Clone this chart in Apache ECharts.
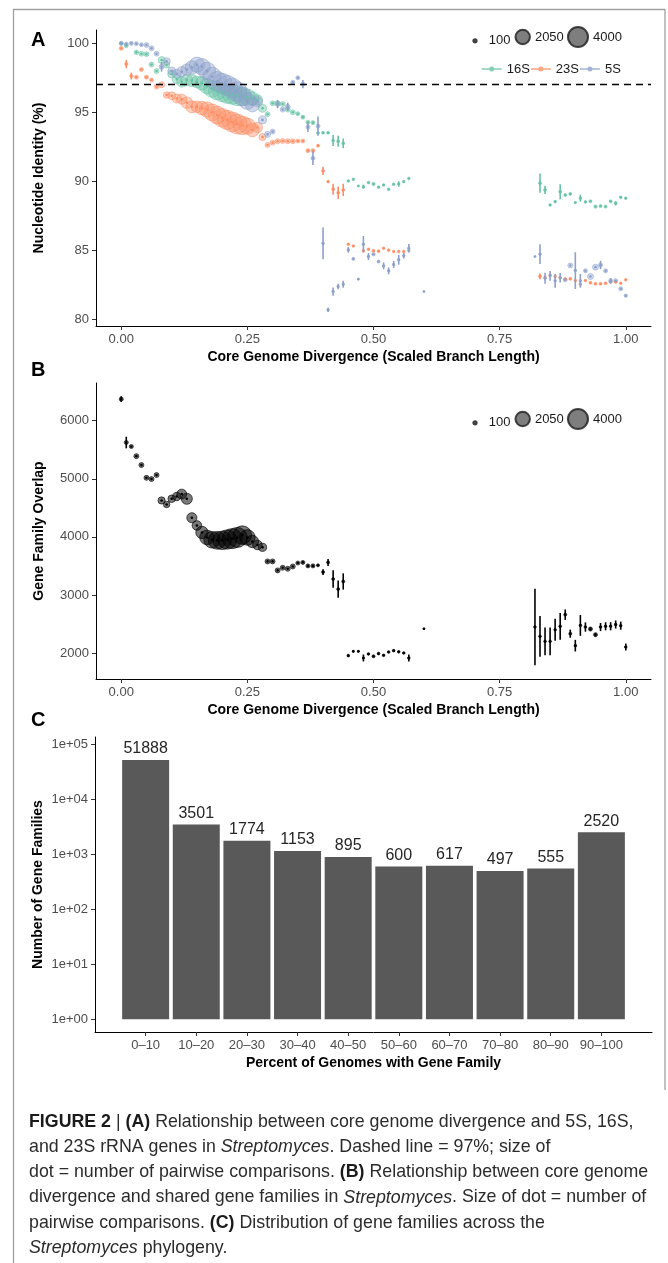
<!DOCTYPE html>
<html>
<head>
<meta charset="utf-8">
<script src="https://cdn.jsdelivr.net/npm/echarts@6/dist/echarts.min.js"></script>
<style>
  html, body { margin: 0; padding: 0; background: #fff; }
  #chart { width: 668px; height: 1263px; }
</style>
</head>
<body>
<div id="chart"></div>
<script>
// rows: [divergence, value, pairwise comparisons, half error]
const rrna16S = [
  [0.00,100.0,120,0],[0.01,99.83,150,0],[0.03,99.35,200,0],[0.04,99.25,230,0],[0.05,99.22,230,0],
  [0.06,98.46,230,0],[0.07,97.99,230,0],[0.08,98.79,470,0],[0.09,98.43,340,0],[0.10,97.78,600,0],
  [0.11,97.4,800,0],[0.12,97.2,1000,0],[0.13,97.35,1300,0],[0.14,97.3,1400,0],[0.15,97.2,1300,0],
  [0.16,97.1,1800,0],[0.17,96.9,2300,0],[0.18,96.7,2800,0],[0.19,96.55,3100,0],[0.20,96.45,3400,0],
  [0.21,96.35,3700,0],[0.22,96.3,3900,0],[0.23,96.2,3900,0],[0.24,96.15,3400,0],[0.25,96.1,2600,0],
  [0.26,96.0,1800,0],[0.27,95.9,1000,0],[0.28,95.3,620,0],[0.29,94.86,230,0],[0.30,95.65,230,0],
  [0.31,95.65,230,0],[0.32,95.6,230,0],[0.33,95.2,230,0],[0.34,95.0,230,0],[0.35,94.9,150,0],
  [0.36,94.65,150,0],[0.37,94.28,150,0],[0.38,94.25,150,0],[0.39,93.5,80,0],[0.40,93.52,80,0],
  [0.41,93.52,80,0],[0.42,92.95,80,0.4],[0.43,92.9,80,0.4],[0.44,92.75,80,0.35],
  [0.45,90.02,60,0],[0.46,90.14,60,0],[0.47,89.66,30,0],[0.48,89.6,60,0.15],[0.49,89.9,60,0],
  [0.50,89.8,100,0],[0.51,89.57,60,0],[0.52,89.73,60,0],[0.53,89.42,60,0],[0.54,89.78,60,0],
  [0.55,89.8,60,0.2],[0.56,89.97,60,0],[0.57,90.2,60,0],
  [0.83,89.86,80,0.7],[0.84,89.37,80,0.3],[0.85,88.28,60,0],[0.86,88.52,60,0],[0.87,89.24,80,0.55],
  [0.88,89.0,80,0],[0.89,89.08,80,0],[0.90,88.45,40,0],[0.91,88.77,60,0.25],[0.92,88.5,60,0],
  [0.93,88.55,80,0],[0.94,88.16,100,0],[0.95,88.2,80,0],[0.96,88.16,80,0],[0.97,88.55,80,0],
  [0.98,88.4,80,0.15],[0.99,88.84,60,0],[1.00,88.77,60,0]
];
const rrna23S = [
  [0.00,99.64,150,0],[0.01,98.5,100,0.3],[0.02,97.63,100,0.25],[0.03,97.55,150,0],[0.04,98.1,150,0],
  [0.05,97.55,150,0],[0.06,97.34,150,0],[0.07,96.86,230,0],[0.08,97.0,340,0],[0.09,96.25,400,0],
  [0.10,96.2,600,0],[0.11,96.0,800,0],[0.12,95.95,1000,0],[0.13,95.7,1300,0],[0.14,95.4,1400,0],
  [0.15,95.4,1300,0],[0.16,95.3,1800,0],[0.17,95.2,2300,0],[0.18,95.0,2800,0],[0.19,94.8,3100,0],
  [0.20,94.6,3400,0],[0.21,94.45,3700,0],[0.22,94.3,3900,0],[0.23,94.15,3900,0],[0.24,94.05,3400,0],
  [0.25,94.0,2600,0],[0.26,93.72,1800,0],[0.27,93.9,1000,0],[0.28,93.2,470,0],[0.29,92.63,230,0],
  [0.30,92.8,230,0],[0.31,92.9,230,0],[0.32,92.92,230,0],[0.33,92.9,230,0],[0.34,92.9,230,0],
  [0.35,92.92,150,0],[0.36,92.92,150,0],[0.37,92.22,150,0],[0.38,92.22,150,0],[0.39,92.58,80,0],
  [0.40,90.75,80,0.3],[0.41,89.97,60,0],[0.42,89.42,80,0.4],[0.43,89.17,80,0.45],[0.44,89.37,80,0.45],
  [0.45,85.43,60,0],[0.46,85.3,60,0],[0.48,84.95,60,0],[0.49,85.07,60,0],[0.50,84.95,80,0],
  [0.51,84.93,80,0],[0.52,85.14,60,0],[0.53,85.0,60,0],[0.54,84.9,60,0],[0.55,84.9,60,0],
  [0.56,84.9,60,0],[0.57,84.97,60,0],
  [0.83,83.1,80,0.2],[0.84,83.04,60,0],[0.85,83.2,60,0],[0.86,83.1,60,0],[0.87,83.0,60,0],
  [0.88,82.9,80,0],[0.89,82.92,80,0],[0.90,82.8,60,0],[0.91,82.53,60,0],[0.92,82.8,60,0],
  [0.93,82.64,80,0],[0.94,82.56,80,0],[0.95,82.56,80,0],[0.96,82.6,80,0],[0.97,82.7,80,0],
  [0.98,82.7,80,0],[0.99,82.6,60,0],[1.00,82.85,60,0]
];
const rrna5S = [
  [0.00,100.0,150,0],[0.01,99.95,150,0],[0.02,100.0,150,0],[0.03,99.98,150,0],[0.04,99.9,150,0],
  [0.05,99.88,230,0],[0.06,99.64,230,0],[0.07,99.25,230,0],[0.08,98.3,230,0.35],[0.09,98.7,500,0],
  [0.10,98.0,600,0],[0.11,97.8,800,0],[0.12,97.95,1000,0],[0.13,98.1,1300,0],[0.14,98.25,1800,0],
  [0.15,98.45,2300,0],[0.16,98.3,2700,0],[0.17,98.0,3000,0],[0.18,97.6,3400,0],[0.19,97.25,3900,0],
  [0.20,97.1,4000,0],[0.21,96.95,4000,0],[0.22,96.75,4000,0],[0.23,96.5,3900,0],[0.24,96.15,3400,0],
  [0.25,95.82,2800,0],[0.26,95.55,2000,0],[0.27,95.77,1000,0],[0.28,94.45,620,0],[0.29,93.4,340,0],
  [0.30,93.6,230,0],[0.31,95.6,230,0.3],[0.32,95.2,230,0],[0.33,95.4,230,0.3],[0.34,97.17,150,0],
  [0.35,97.5,150,0],[0.36,97.05,150,0.3],[0.37,93.93,150,0.35],[0.38,91.67,150,0.5],[0.39,94.0,150,0.7],
  [0.40,85.5,80,1.15],[0.41,80.67,60,0.15],[0.42,82.0,60,0.3],[0.43,82.36,60,0.2],[0.44,82.53,60,0.25],
  [0.45,85.02,60,0.2],[0.46,84.37,80,0],[0.47,82.9,30,0],[0.48,85.43,60,0.6],[0.49,84.54,60,0.25],
  [0.50,84.7,100,0],[0.51,84.17,80,0],[0.52,83.86,60,0.25],[0.53,83.5,60,0.25],[0.54,83.96,60,0.25],
  [0.55,84.3,60,0.35],[0.56,84.6,60,0.2],[0.57,85.14,60,0.3],[0.60,82.0,20,0],
  [0.82,84.54,20,0],[0.83,84.71,60,0.72],[0.84,82.97,60,0.4],[0.85,83.14,60,0.35],[0.86,82.78,60,0.5],
  [0.87,83.0,60,0.35],[0.88,82.85,150,0],[0.89,83.89,230,0],[0.90,83.52,60,1.33],[0.91,82.78,60,0.5],
  [0.92,83.5,150,0],[0.93,83.09,340,0],[0.94,83.77,340,0],[0.95,83.93,150,0.3],[0.96,83.5,150,0],
  [0.97,82.78,150,0.2],[0.98,82.78,150,0],[0.99,82.2,150,0],[1.00,81.7,100,0]
];
const geneOverlap = [
  [0.00,6372,150,50],[0.01,5625,150,100],[0.02,5556,150,0],[0.03,5390,230,0],[0.04,5236,230,0],
  [0.05,5017,230,0],[0.06,4995,230,0],[0.07,5064,230,0],[0.08,4627,500,0],[0.09,4558,400,0],
  [0.10,4656,550,0],[0.11,4695,700,0],[0.12,4737,950,0],[0.13,4656,1200,0],[0.14,4329,1000,0],
  [0.15,4196,900,0],[0.16,4076,1500,0],[0.17,3990,2100,0],[0.18,3950,2700,0],[0.19,3940,3100,0],
  [0.20,3940,3400,0],[0.21,3955,3700,0],[0.22,3970,4000,0],[0.23,3990,4000,0],[0.24,4030,3400,0],
  [0.25,3990,2400,0],[0.26,3920,1500,0],[0.27,3860,900,0],[0.28,3820,650,0],[0.29,3577,230,0],
  [0.30,3577,230,0],[0.31,3422,230,0],[0.32,3468,230,0],[0.33,3450,230,0],[0.34,3490,230,0],
  [0.35,3549,150,0],[0.36,3560,150,0],[0.37,3500,150,0],[0.38,3500,150,0],[0.39,3510,80,0],
  [0.40,3394,80,50],[0.41,3560,80,60],[0.42,3274,80,150],[0.43,3100,80,150],[0.44,3232,80,140],
  [0.45,1954,60,0],[0.46,2028,40,0],[0.47,2028,40,0],[0.48,1914,40,60],[0.49,1983,60,0],
  [0.50,1943,80,0],[0.51,1989,60,0],[0.52,1960,60,0],[0.53,2017,60,0],[0.54,2040,60,0],
  [0.55,2020,60,0],[0.56,2000,60,0],[0.57,1914,60,60],[0.60,2418,20,0],
  [0.82,2447,60,660],[0.83,2286,60,350],[0.84,2200,60,240],[0.85,2200,60,240],[0.86,2400,60,190],
  [0.87,2460,60,230],[0.88,2660,80,90],[0.89,2332,80,70],[0.90,2126,60,100],[0.91,2475,60,180],
  [0.92,2447,60,80],[0.93,2413,150,30],[0.94,2315,150,30],[0.95,2447,60,70],[0.96,2460,60,70],
  [0.97,2460,60,70],[0.98,2490,60,70],[0.99,2470,60,70],[1.00,2103,60,60]
];
const sizeBreaks = ['100', '2050', '4000'];
const percentBins = ['0–10', '10–20', '20–30', '30–40', '40–50', '50–60', '60–70', '70–80', '80–90', '90–100'];
const familyCounts = [51888, 3501, 1774, 1153, 895, 600, 617, 497, 555, 2520];
const divTicks = [0, 0.25, 0.5, 0.75, 1];
const identityTicks = [80, 85, 90, 95, 100];
const overlapTicks = [2000, 3000, 4000, 5000, 6000];
const logTicks = [0, 1, 2, 3, 4, 5];
const captionLines = [
  '{b|FIGURE 2} | {b|(A)} Relationship between core genome divergence and 5S, 16S,',
  'and 23S rRNA genes in {i|Streptomyces}. Dashed line = 97%; size of',
  'dot = number of pairwise comparisons. {b|(B)} Relationship between core genome',
  'divergence and shared gene families in {i|Streptomyces}. Size of dot = number of',
  'pairwise comparisons. {b|(C)} Distribution of gene families across the',
  '{i|Streptomyces} phylogeny.'
];

const FONT = "'Liberation Sans', Arial, sans-serif";
const COL16 = '#66c2a5', COL23 = '#fc8d62', COL5 = '#8da0cb';
const dotSize = n => 0.2 + 0.314 * Math.sqrt(n);

function fade(hex, a) {
  const v = parseInt(hex.slice(1), 16);
  return 'rgba(' + (v >> 16) + ',' + ((v >> 8) & 255) + ',' + (v & 255) + ',' + a + ')';
}

function axisBase(grid, min, max, ticks, fmt, name, gap) {
  return {
    type: 'value', gridIndex: grid, min: min, max: max,
    axisLine: { show: true, onZero: false, lineStyle: { color: '#000', width: 1 } },
    axisTick: { show: true, length: 4, customValues: ticks, lineStyle: { color: '#333', width: 1 } },
    axisLabel: { customValues: ticks, formatter: fmt, fontFamily: FONT, fontSize: 13, color: '#4d4d4d', margin: 7 },
    splitLine: { show: false },
    name: name, nameLocation: 'middle', nameGap: gap, nameMoveOverlap: false,
    nameTextStyle: { fontFamily: FONT, fontSize: 14, fontWeight: 'bold', color: '#000' }
  };
}

// point + range drawn on top of the sized circles
function rangeItem(color, width, r) {
  return function (params, api) {
    const x = api.value(0), y = api.value(1), e = api.value(3);
    const mid = api.coord([x, y]);
    const kids = [];
    if (e > 0) {
      const hi = api.coord([x, y + e]), lo = api.coord([x, y - e]);
      kids.push({ type: 'line', shape: { x1: hi[0], y1: hi[1], x2: lo[0], y2: lo[1] },
        style: { stroke: color, lineWidth: width } });
    }
    kids.push({ type: 'circle', shape: { cx: mid[0], cy: mid[1], r: r }, style: { fill: color } });
    return { type: 'group', children: kids };
  };
}

function sizedPoints(name, data, color, xi, yi, extra) {
  return Object.assign({
    name: name, type: 'scatter', xAxisIndex: xi, yAxisIndex: yi, data: data,
    symbolSize: v => dotSize(v[2]),
    itemStyle: { color: fade(color, 0.5), borderColor: fade(color, 0.85), borderWidth: 0.8 },
    z: 2
  }, extra || {});
}

function ranges(name, data, color, xi, yi, width, r) {
  return {
    name: name, type: 'custom', xAxisIndex: xi, yAxisIndex: yi, data: data,
    encode: { x: 0, y: 1 }, renderItem: rangeItem(color, width, r), z: 3
  };
}

const lineDot = 'path://M0,2.25H20V3.75H0Z M10,0.5A2.5,2.5 0 1,1 10,5.5A2.5,2.5 0 1,1 10,0.5Z';

// size key: circle centres and label starts
function sizeLegends(centerY) {
  const centres = [474, 521.7, 577];
  const textPad = [7, 0, 0];
  return sizeBreaks.map((b, i) => {
    const h = dotSize(+b);
    return {
      left: centres[i] - h / 2, top: centerY - h / 2, padding: 0, orient: 'horizontal',
      itemWidth: h, itemHeight: h, itemGap: 0, selectedMode: false,
      data: [{ name: b, icon: 'circle' }],
      textStyle: { fontFamily: FONT, fontSize: 13, color: '#1a1a1a', padding: [0, 0, 0, textPad[i]] }
    };
  });
}

const barData = familyCounts.map((c, i) => [i + 1, Math.log10(c)]);

const frame = { stroke: '#a0a0a0', lineWidth: 1.3 };
const graphics = [
  { type: 'line', shape: { x1: 13, y1: 9.5, x2: 665, y2: 9.5 }, style: frame },
  { type: 'line', shape: { x1: 13.5, y1: 9, x2: 13.5, y2: 1263 }, style: frame },
  { type: 'line', shape: { x1: 665, y1: 9, x2: 665, y2: 1090 }, style: frame }
];
[['A', 40.5], ['B', 370.5], ['C', 720]].forEach(p => {
  graphics.push({ type: 'text', x: 31, y: p[1], style: { text: p[0], fontFamily: FONT, fontSize: 20,
    fontWeight: 'bold', fill: '#000', verticalAlign: 'middle' } });
});
captionLines.forEach((t, i) => {
  graphics.push({ type: 'text', x: 29, y: 1122 + i * 25.2, style: {
    text: t, fontFamily: FONT, fontSize: 17.8, fill: '#2b2b2b', verticalAlign: 'middle',
    rich: {
      b: { fontFamily: FONT, fontSize: 17.8, fontWeight: 'bold', fill: '#1a1a1a' },
      i: { fontFamily: FONT, fontSize: 17.8, fontStyle: 'italic', fill: '#2b2b2b' }
    }
  } });
});

const option = {
  animation: false,
  backgroundColor: '#fff',
  grid: [
    { left: 96, top: 30, width: 555, height: 296 },
    { left: 96, top: 383, width: 555, height: 296 },
    { left: 95, top: 737, width: 557, height: 295 }
  ],
  xAxis: [
    axisBase(0, -0.05, 1.05, divTicks, v => v.toFixed(2), 'Core Genome Divergence (Scaled Branch Length)', 24),
    axisBase(1, -0.05, 1.05, divTicks, v => v.toFixed(2), 'Core Genome Divergence (Scaled Branch Length)', 24),
    axisBase(2, 0, 11, [1, 2, 3, 4, 5, 6, 7, 8, 9, 10], v => percentBins[v - 1], 'Percent of Genomes with Gene Family', 24)
  ],
  yAxis: [
    axisBase(0, 79.5, 100.97, identityTicks, v => String(v), 'Nucleotide Identity (%)', 49.5),
    axisBase(1, 1552, 6650, overlapTicks, v => String(v), 'Gene Family Overlap', 49.5),
    axisBase(2, -0.23, 5.133, logTicks, v => '1e+0' + v, 'Number of Gene Families', 49.5)
  ],
  legend: sizeLegends(36).concat(sizeLegends(418)).concat([{
    left: 481.7, top: 62.5, padding: 0, itemWidth: 20, itemHeight: 5, itemGap: 1, selectedMode: false,
    textStyle: { fontFamily: FONT, fontSize: 13, color: '#1a1a1a' },
    data: [
      { name: '16S', icon: lineDot, itemStyle: { color: COL16, borderWidth: 0 } },
      { name: '23S', icon: lineDot, itemStyle: { color: COL23, borderWidth: 0 } },
      { name: '5S', icon: lineDot, itemStyle: { color: COL5, borderWidth: 0 } }
    ]
  }]),
  graphic: graphics,
  series: [
    sizedPoints('16S', rrna16S, COL16, 0, 0, {
      markLine: {
        silent: true, symbol: 'none', label: { show: false },
        lineStyle: { color: '#000', width: 1.3, type: [7, 5] },
        data: [{ yAxis: 97 }]
      }
    }),
    sizedPoints('23S', rrna23S, COL23, 0, 0),
    sizedPoints('5S', rrna5S, COL5, 0, 0),
    ranges('16S', rrna16S, COL16, 0, 0, 1.6, 1.3),
    ranges('23S', rrna23S, COL23, 0, 0, 1.6, 1.3),
    ranges('5S', rrna5S, COL5, 0, 0, 1.6, 1.3),
    {
      name: 'overlap', type: 'scatter', xAxisIndex: 1, yAxisIndex: 1, data: geneOverlap,
      symbolSize: v => dotSize(v[2]),
      itemStyle: { color: 'rgba(0,0,0,0.65)', borderColor: '#000', borderWidth: 0.8 }, z: 2
    },
    ranges('overlap', geneOverlap, '#000', 1, 1, 1.6, 1.3),
    {
      name: 'families', type: 'bar', xAxisIndex: 2, yAxisIndex: 2, data: barData, barWidth: 47,
      itemStyle: { color: '#595959' },
      label: {
        show: true, position: 'top', distance: 3, fontFamily: FONT, fontSize: 16, color: '#262626',
        formatter: p => String(familyCounts[p.dataIndex])
      }
    }
  ].concat(sizeBreaks.map(b => ({
    name: b, type: 'scatter', data: [],
    itemStyle: { color: '#5e5e5e', borderColor: '#1a1a1a', borderWidth: 1 }
  })))
};

const chart = echarts.init(document.getElementById('chart'), null, { renderer: 'canvas' });
chart.setOption(option);
</script>
</body>
</html>
